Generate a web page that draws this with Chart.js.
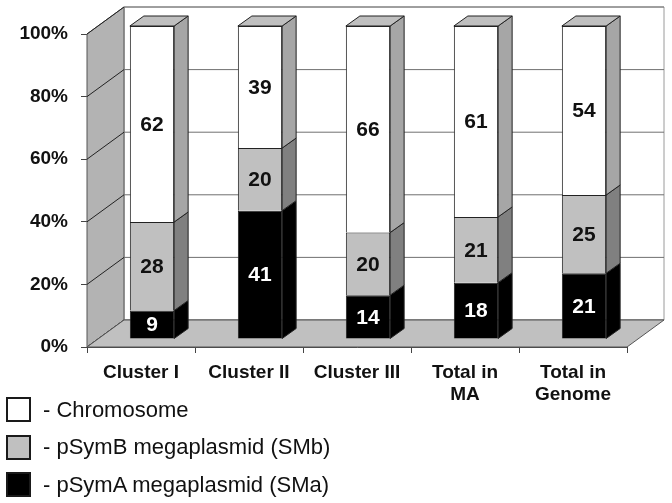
<!DOCTYPE html>
<html>
<head>
<meta charset="utf-8">
<script src="https://cdn.jsdelivr.net/npm/chart.js@4"></script>
<style>
    body { margin: 0; background: #fff; }
    #wrap { position: relative; width: 672px; height: 503px; }
    #legend { position: absolute; left: 6px; top: 397px; font: 22px "Liberation Sans", Arial, sans-serif; color: #111; }
    .item { display: flex; align-items: center; height: 25px; margin-bottom: 12.5px; }
    .box { box-sizing: border-box; width: 25px; height: 25px; border: 2px solid #1a1a1a; margin-right: 12px; }
</style>
</head>
<body>
<div id="wrap">
    <canvas id="chart" width="672" height="503"></canvas>
    <div id="legend"></div>
</div>
<script>
// ==========================
// Data
// ==========================

const categories = [["Cluster I"], ["Cluster II"], ["Cluster III"], ["Total in", "MA"], ["Total in", "Genome"]];
const chromosome = [62, 39, 66, 61, 54];
const pSymB = [28, 20, 20, 21, 25];
const pSymA = [9, 41, 14, 18, 21];
const yTicks = [0, 20, 40, 60, 80, 100];

const seriesNames = ["- Chromosome", "- pSymB megaplasmid (SMb)", "- pSymA megaplasmid (SMa)"];

// 100% stacked: share of each column
const totals = chromosome.map((v, i) => v + pSymB[i] + pSymA[i]);
const pct = arr => arr.map((v, i) => v / totals[i] * 100);

// ==========================
// 3D look
// ==========================

const WALL = { x: 37, y: -27 };   // depth of the walls
const SHIFT = { x: 11, y: -8 };   // bars sit a bit back
const DEPTH = { x: 14, y: -10 };  // depth of each bar

const sideColors = ["#000000", "#808080", "#a6a6a6"];

function poly(ctx, pts, fill, stroke) {
    ctx.beginPath();
    ctx.moveTo(pts[0][0], pts[0][1]);
    pts.slice(1).forEach(p => ctx.lineTo(p[0], p[1]));
    ctx.closePath();
    if (fill) { ctx.fillStyle = fill; ctx.fill(); }
    if (stroke) { ctx.strokeStyle = stroke; ctx.lineWidth = 1; ctx.stroke(); }
}

const walls = {
    id: "walls",
    beforeDatasetsDraw(chart) {
        const { ctx, chartArea: a, scales } = chart;
        const y = scales.y;
        const L = a.left, R = a.right, T = a.top, B = a.bottom;

        ctx.save();
        // back wall
        poly(ctx, [[L + WALL.x, T + WALL.y], [R + WALL.x, T + WALL.y], [R + WALL.x, B + WALL.y], [L + WALL.x, B + WALL.y]], "#ffffff", "#9a9a9a");
        // left wall
        poly(ctx, [[L, T], [L + WALL.x, T + WALL.y], [L + WALL.x, B + WALL.y], [L, B]], "#b3b3b3", "#555");

        // grid lines on walls
        yTicks.forEach(v => {
            const py = y.getPixelForValue(v);
            ctx.beginPath();
            ctx.moveTo(L, py);
            ctx.lineTo(L + WALL.x, py + WALL.y);
            ctx.strokeStyle = "#222";
            ctx.stroke();
            ctx.beginPath();
            ctx.moveTo(L + WALL.x, py + WALL.y);
            ctx.lineTo(R + WALL.x, py + WALL.y);
            ctx.strokeStyle = "#707070";
            ctx.stroke();
        });

        // floor
        poly(ctx, [[L, B], [L + WALL.x, B + WALL.y], [R + WALL.x, B + WALL.y], [R, B]], "#c0c0c0", "#555");

        ctx.translate(SHIFT.x, SHIFT.y);
    },
    afterDatasetsDraw(chart) {
        const { ctx } = chart;
        const n = chart.data.datasets.length;

        // side and top faces
        chart.data.datasets.forEach((ds, di) => {
            chart.getDatasetMeta(di).data.forEach(bar => {
                const xR = bar.x + bar.width / 2;
                const xL = bar.x - bar.width / 2;
                const top = Math.min(bar.y, bar.base);
                const bot = Math.max(bar.y, bar.base);
                poly(ctx, [[xR, top], [xR + DEPTH.x, top + DEPTH.y], [xR + DEPTH.x, bot + DEPTH.y], [xR, bot]], sideColors[di], "#222");
                if (di === n - 1) {
                    poly(ctx, [[xL, top], [xL + DEPTH.x, top + DEPTH.y], [xR + DEPTH.x, top + DEPTH.y], [xR, top]], "#bfbfbf", "#222");
                }
            });
        });

        // value labels
        ctx.font = "bold 21px 'Liberation Sans', Arial, sans-serif";
        ctx.textAlign = "center";
        ctx.textBaseline = "middle";
        chart.data.datasets.forEach((ds, di) => {
            chart.getDatasetMeta(di).data.forEach((bar, i) => {
                ctx.fillStyle = di === 0 ? "#ffffff" : "#111";
                ctx.fillText(ds.raw[i], bar.x, (bar.y + bar.base) / 2 + 1);
            });
        });

        ctx.restore();
    }
};

// ==========================
// Chart
// ==========================

const tickFont = { family: "'Liberation Sans', Arial, sans-serif", weight: "bold" };

new Chart(document.getElementById("chart"), {
    type: "bar",
    data: {
        labels: categories,
        datasets: [
            { label: seriesNames[2], raw: pSymA, data: pct(pSymA), backgroundColor: "#000000" },
            { label: seriesNames[1], raw: pSymB, data: pct(pSymB), backgroundColor: "#c0c0c0" },
            { label: seriesNames[0], raw: chromosome, data: pct(chromosome), backgroundColor: "#ffffff" }
        ]
    },
    options: {
        responsive: false,
        animation: false,
        events: [],
        layout: { padding: { top: 34, right: 45, left: 0, bottom: 0 } },
        datasets: {
            bar: {
                clip: false,
                borderColor: "#222",
                borderWidth: 1,
                categoryPercentage: 1,
                barPercentage: 0.41
            }
        },
        plugins: {
            legend: { display: false },
            tooltip: { enabled: false }
        },
        scales: {
            x: {
                stacked: true,
                afterFit: s => { s.height = 156; },
                grid: { drawOnChartArea: false, drawTicks: true, tickLength: 6, color: "#444", offset: true },
                border: { display: true, color: "#444" },
                ticks: { color: "#111", padding: 8, font: { ...tickFont, size: 19, lineHeight: 1.2 } }
            },
            y: {
                stacked: true,
                min: 0,
                max: 100,
                afterFit: s => { s.width = 87; },
                afterBuildTicks: s => { s.ticks = yTicks.map(v => ({ value: v })); },
                grid: { drawOnChartArea: false, drawTicks: true, tickLength: 6, color: "#444" },
                border: { display: true, color: "#444" },
                ticks: { color: "#111", padding: 13, font: { ...tickFont, size: 19 }, callback: v => v + "%" }
            }
        }
    },
    plugins: [walls]
});

// ==========================
// Legend
// ==========================

const legendFills = ["#ffffff", "#c0c0c0", "#000000"];
document.getElementById("legend").innerHTML = seriesNames.map((name, i) => `
    <div class="item"><span class="box" style="background:${legendFills[i]}"></span>${name}</div>
`).join("");
</script>
</body>
</html>
